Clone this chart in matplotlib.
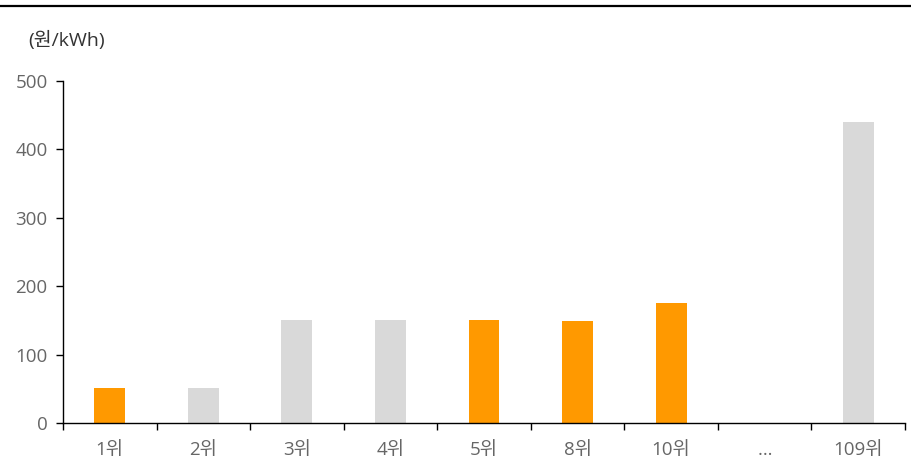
import numpy as np
import matplotlib
matplotlib.use('Agg')
import matplotlib.pyplot as plt

plt.rcParams['font.family'] = ['Open Sans', 'Noto Sans CJK KR', 'DejaVu Sans']

# 데이터
categories = ['1위', '2위', '3위', '4위', '5위', '8위', '10위', '…', '109위']
values = [51, 51, 151, 151, 151, 149, 175, np.nan, 440]
highlight = [True, False, False, False, True, True, True, False, False]

orange = '#FF9900'
gray = '#D9D9D9'
text_color = '#666666'

fig = plt.figure(figsize=(9.12, 4.70), dpi=100)
ax = fig.add_axes([0.0691, 0.1, 0.9232, 0.7277])

x = np.arange(len(categories))
colors = [orange if h else gray for h in highlight]
ax.bar(x, values, width=0.33, color=colors, zorder=2)

ax.set_xlim(-0.5, len(categories) - 0.5)
ax.set_ylim(0, 500)
ax.set_yticks([0, 100, 200, 300, 400, 500])

# x축 눈금: 카테고리 경계에 틱, 가운데에 라벨
ax.set_xticks(x)
ax.set_xticklabels(categories)
ax.set_xticks(np.arange(len(categories) + 1) - 0.5, minor=True)
ax.tick_params(axis='x', which='major', length=0, pad=13, labelsize=13.5, labelcolor=text_color)
ax.tick_params(axis='x', which='minor', length=5, width=1, direction='out', color='black')
ax.tick_params(axis='y', length=5, width=1, direction='out', pad=6, labelsize=13.5, labelcolor=text_color)

for s in ['top', 'right']:
    ax.spines[s].set_visible(False)
ax.spines['left'].set_linewidth(1)
ax.spines['bottom'].set_linewidth(1)

# 단위 표시
fig.text(28 / 912, 1 - 40 / 470, '(원/kWh)', fontsize=14, color='#333333', va='center', ha='left')

# 상단 구분선
fig.add_artist(plt.Line2D([0, 1], [1 - 6 / 470, 1 - 6 / 470], color='black', linewidth=1.6))

plt.savefig('out.png', dpi=100)
